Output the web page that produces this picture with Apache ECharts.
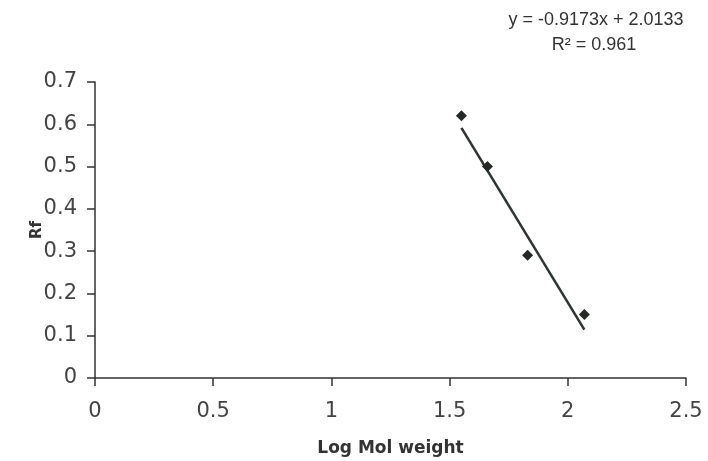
<!DOCTYPE html>
<html>
<head>
<meta charset="utf-8">
<script src="https://cdn.jsdelivr.net/npm/echarts@6/dist/echarts.min.js"></script>
<style>html,body{margin:0;padding:0;background:#fff;}#c{width:708px;height:461px;}</style>
</head>
<body>
<div id="c"></div>
<script>
const logMolWeight = [1.55, 1.66, 1.83, 2.07];
const rfValues = [0.62, 0.50, 0.29, 0.15];
const trendSlope = -0.9173;
const trendIntercept = 2.0133;
const rSquared = 0.961;
const xTicks = [0, 0.5, 1, 1.5, 2, 2.5];
const yTicks = [0, 0.1, 0.2, 0.3, 0.4, 0.5, 0.6, 0.7];

const points = logMolWeight.map((x, i) => [x, rfValues[i]]);
const xMin = Math.min(...logMolWeight), xMax = Math.max(...logMolWeight);
const trend = [[xMin, trendSlope * xMin + trendIntercept], [xMax, trendSlope * xMax + trendIntercept]];

const chart = echarts.init(document.getElementById('c'));
const labelStyle = {fontFamily: 'DejaVu Sans, sans-serif', fontSize: 21, color: '#444'};
const eqFont = 'Liberation Sans, Arial, sans-serif';
chart.setOption({
  backgroundColor: '#ffffff',
  animation: false,
  grid: {left: 95, right: 22, top: 82, bottom: 83, outerBoundsMode: 'none'},
  xAxis: {
    type: 'value', min: xTicks[0], max: xTicks[xTicks.length - 1], interval: 0.5,
    splitLine: {show: false},
    axisLine: {lineStyle: {color: '#333', width: 1.5}},
    axisTick: {length: 8, lineStyle: {color: '#333', width: 1.5}},
    axisLabel: Object.assign({margin: 23}, labelStyle),
    name: 'Log Mol weight', nameLocation: 'middle', nameGap: 62, nameMoveOverlap: false,
    nameTextStyle: {fontFamily: 'DejaVu Sans, sans-serif', fontSize: 17, fontWeight: 'bold', color: '#333'}
  },
  yAxis: {
    type: 'value', min: yTicks[0], max: yTicks[yTicks.length - 1], interval: 0.1,
    splitLine: {show: false},
    axisLine: {lineStyle: {color: '#333', width: 1.5}},
    axisTick: {length: 8, lineStyle: {color: '#333', width: 1.5}},
    axisLabel: Object.assign({margin: 18, formatter: v => String(Math.round(v * 10) / 10)}, labelStyle),
    name: 'Rf', nameLocation: 'middle', nameGap: 50, nameRotate: 90, nameMoveOverlap: false,
    nameTextStyle: {fontFamily: 'DejaVu Sans, sans-serif', fontSize: 15, fontWeight: 'bold', color: '#333'}
  },
  graphic: [
    {type: 'text', x: 596, y: 20, style: {text: 'y = ' + trendSlope + 'x + ' + trendIntercept, fontFamily: eqFont, fontSize: 18, fill: '#333', align: 'center', verticalAlign: 'middle'}},
    {type: 'text', x: 594, y: 45, style: {text: 'R² = ' + rSquared, fontFamily: eqFont, fontSize: 18, fill: '#333', align: 'center', verticalAlign: 'middle'}}
  ],
  series: [
    {type: 'line', data: trend, symbol: 'none', lineStyle: {color: '#2e3430', width: 2.5}, z: 2},
    {type: 'scatter', data: points, symbol: 'diamond', symbolSize: 11, itemStyle: {color: '#242926', opacity: 1}, z: 3}
  ]
});
</script>
</body>
</html>
